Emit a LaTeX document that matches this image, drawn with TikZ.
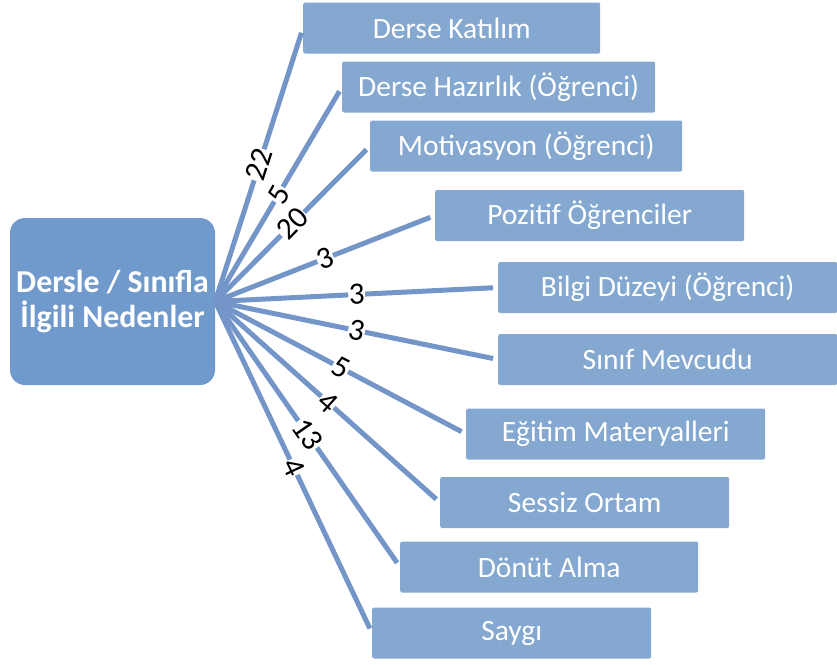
\documentclass[tikz,border=0pt]{standalone}
\usepackage{fontspec}
\setmainfont{Carlito}
\usepackage{xcolor}
\usepackage{tikz}
\definecolor{koyumavi}{RGB}{113,154,204}
\definecolor{acikmavi}{RGB}{133,168,208}
\definecolor{cizgi}{RGB}{115,149,200}
\tikzset{
	kutu/.style={fill=acikmavi, text=white, anchor=west, minimum height=51pt, rounded corners=2pt, inner sep=0pt, font=\fontsize{29.5}{34}\selectfont},
	sayi/.style={fill=white, sloped, inner sep=0.5pt, font=\fontsize{31}{34}\selectfont},
	baglanti/.style={draw=cizgi, line width=5pt, shorten >=5pt}
}
\begin{document}
\begin{tikzpicture}[x=1pt,y=-1pt]
			\useasboundingbox (0,0) rectangle (837,664);
			% Ana kutu
			\node[fill=koyumavi, text=white, rounded corners=15pt, minimum width=205pt, minimum height=167pt, align=center, font=\bfseries\fontsize{31.8}{35}\selectfont] (merkez) at (112.5,301.5) {Dersle / Sınıfla\\İlgili Nedenler};
			% Kutular ve bağlantılar
			\foreach \x/\y/\w/\txt/\n [count=\i] in {303/28/297/Derse Katılım/22, 342/87/313/Derse Hazırlık (Öğrenci)/5, 370/146/312/Motivasyon (Öğrenci)/20, 435/215.5/309/Pozitif Öğrenciler/3, 498/287.5/339/Bilgi Düzeyi (Öğrenci)/3, 498/359.5/339/Sınıf Mevcudu/3, 466/434/299/Eğitim Materyalleri/5, 440/502.5/289/Sessiz Ortam/4, 400/567/298/Dönüt Alma/13, 372/633/279/Saygı/4}
			{
				\node[kutu, minimum width=\w pt] (k\i) at (\x,\y) {\txt};
				\draw[baglanti] (merkez.east) -- node[sayi] {\n} (k\i.west);
			}
		\end{tikzpicture}
\end{document}
